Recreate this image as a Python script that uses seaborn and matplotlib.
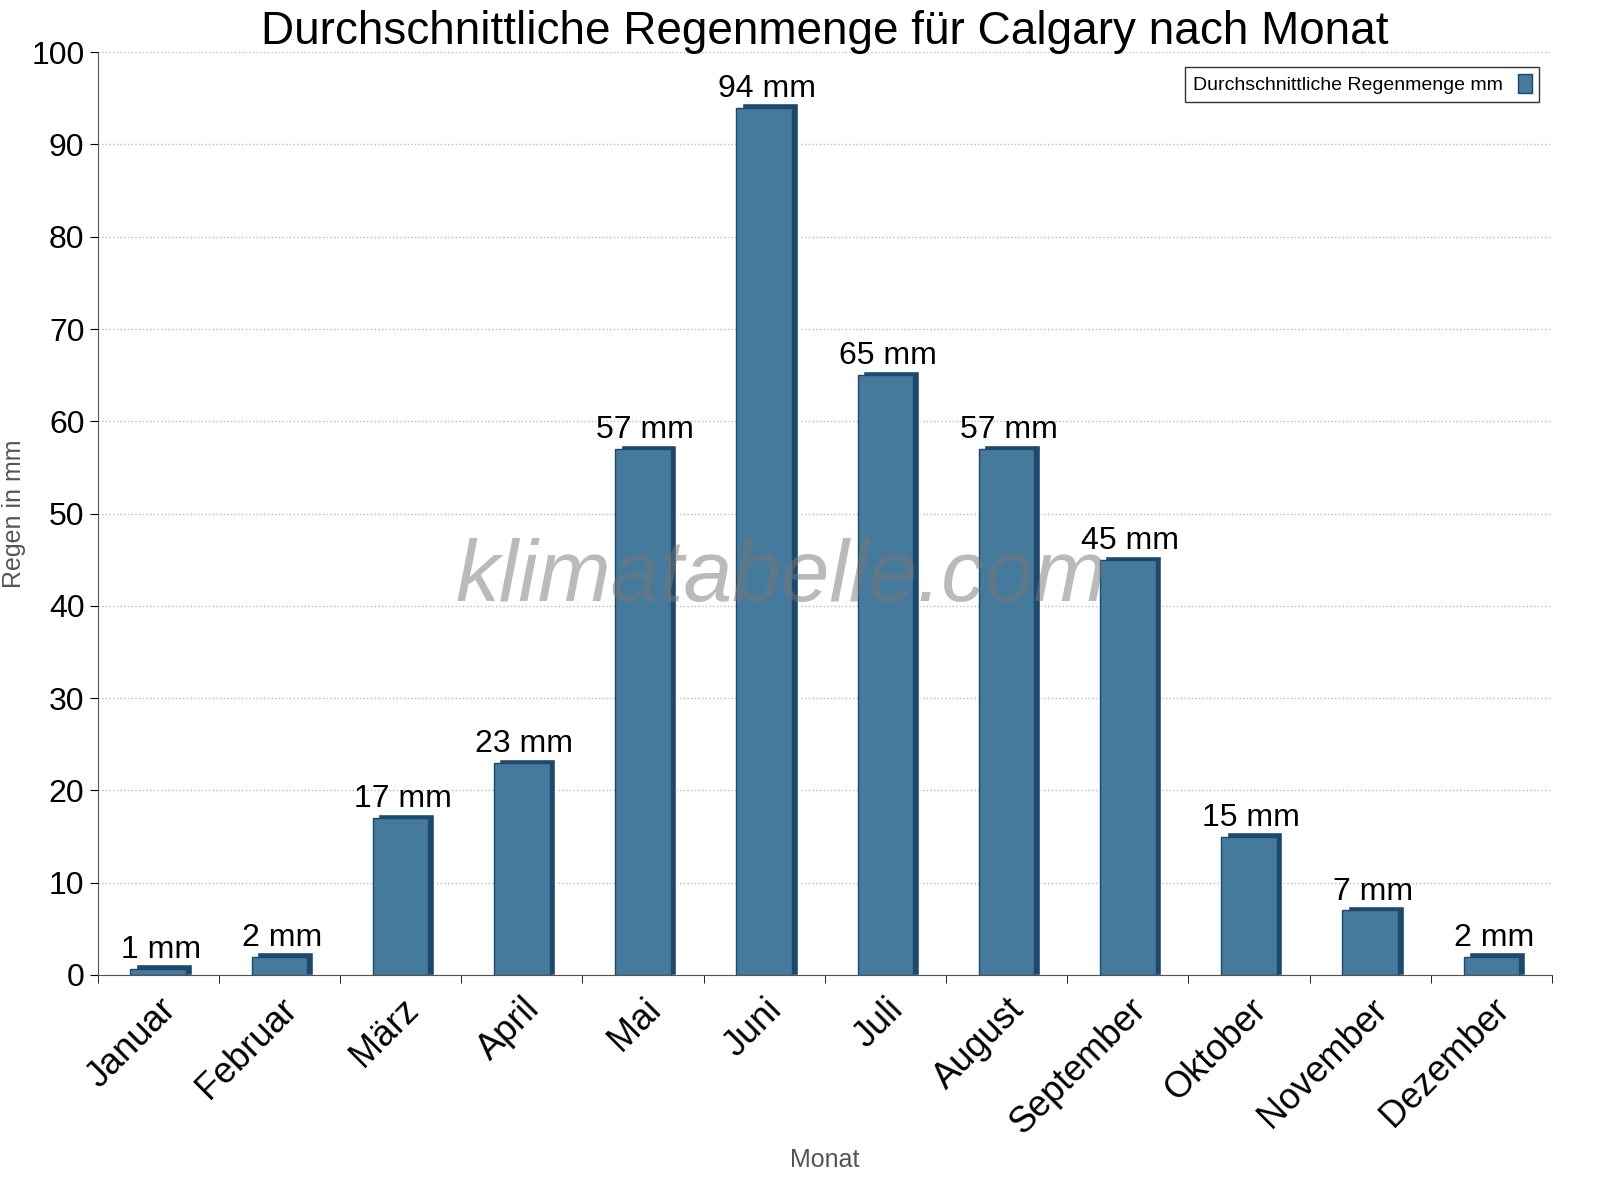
import matplotlib
matplotlib.use("Agg")
import matplotlib.pyplot as plt
import seaborn as sns
import pandas as pd
from matplotlib.patches import Patch

# Daten
monate = ["Januar", "Februar", "März", "April", "Mai", "Juni", "Juli",
          "August", "September", "Oktober", "November", "Dezember"]
regen = [0.7, 2, 17, 23, 57, 94, 65, 57, 45, 15, 7, 2]
labels = ["1 mm", "2 mm", "17 mm", "23 mm", "57 mm", "94 mm", "65 mm",
          "57 mm", "45 mm", "15 mm", "7 mm", "2 mm"]

df = pd.DataFrame({"Monat": monate, "Regen": regen})

sns.set_style("white")
plt.rcParams["font.family"] = "Liberation Sans"
plt.rcParams["text.color"] = "black"
plt.rcParams["xtick.color"] = "black"
plt.rcParams["ytick.color"] = "black"

fig = plt.figure(figsize=(16, 12), dpi=100)
ax = fig.add_axes([0.061, 0.1875, 0.909, 0.769])

face = "#457a9c"
dark = "#1d4a6c"

# dunkle "Seitenflächen" (3D-Effekt)
sns.barplot(data=df, x="Monat", y="Regen", color=dark, width=0.46,
            saturation=1, ax=ax)
n = len(monate)
for p in ax.patches[:n]:
    p.set_x(p.get_x() + 0.045)
    p.set_height(p.get_height() + 0.45)
sns.barplot(data=df, x="Monat", y="Regen", color=face, width=0.46,
            saturation=1, ax=ax, edgecolor=dark, linewidth=1)

for i, (v, t) in enumerate(zip(regen, labels)):
    ax.text(i + 0.02, v + 0.4, t, ha="center", va="bottom", fontsize=23)

ax.set_xlim(-0.5, n - 0.5)
ax.set_ylim(0, 100)
ax.set_yticks(range(0, 101, 10))
ax.tick_params(axis="y", labelsize=23, length=6, direction="out", left=True)
ax.set_xticks(range(n))
ax.set_xticklabels(monate, rotation=45, ha="right", rotation_mode="anchor",
                   fontsize=26)
ax.set_xticks([i - 0.5 for i in range(n + 1)], minor=True)
ax.tick_params(axis="x", which="major", length=0, pad=12)
ax.tick_params(axis="x", which="minor", length=6, bottom=True)
ax.grid(axis="y", linestyle=":", color="#bbbbbb", linewidth=1)
ax.set_axisbelow(True)
for s in ["top", "right"]:
    ax.spines[s].set_visible(False)
ax.spines["left"].set_color("#555555")
ax.spines["bottom"].set_color("#555555")

ax.set_xlabel("Monat", fontsize=18, color="#555555")
ax.xaxis.set_label_coords(0.5, -0.188)
ax.set_ylabel("Regen in mm", fontsize=18, color="#555555")
ax.set_title("Durchschnittliche Regenmenge für Calgary nach Monat",
             fontsize=33, pad=6)

ax.text(0.47, 0.43, "klimatabelle.com", transform=ax.transAxes,
        fontsize=63, style="italic", color="#777777", alpha=0.5,
        ha="center", va="center")

leg = ax.legend(handles=[Patch(facecolor=face, edgecolor=dark)],
                labels=["Durchschnittliche Regenmenge mm"],
                loc="upper right", fontsize=14, markerfirst=False,
                frameon=True, fancybox=False, edgecolor="black",
                handlelength=0.7, handleheight=1.1, bbox_to_anchor=(0.998, 0.995))

fig.savefig("out.png", dpi=100)
